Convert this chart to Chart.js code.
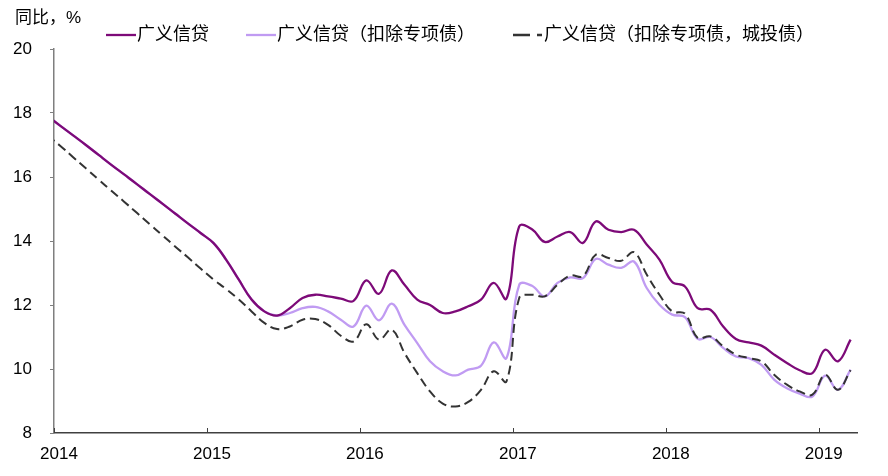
<!DOCTYPE html>
<html>
<head>
<meta charset="utf-8">
<script src="https://cdn.jsdelivr.net/npm/chart.js@4.4.1/dist/chart.umd.min.js"></script>
<style>
  html, body { margin: 0; padding: 0; background: #fff; }
  #wrap { width: 888px; height: 476px; }
</style>
</head>
<body>
<div id="wrap"><canvas id="creditChart" width="888" height="476"></canvas></div>
<script>
// monthly, first value = Dec 2013, last = Mar 2019
const yearLabels = ['2014', '2015', '2016', '2017', '2018', '2019'];
const seriesNames = ['广义信贷', '广义信贷（扣除专项债）', '广义信贷（扣除专项债，城投债）'];

const credit = [17.9,
  17.6, 17.3, 17.0, 16.69, 16.38, 16.08, 15.78, 15.47, 15.17, 14.86, 14.55, 14.25,
  13.94, 13.42, 12.79, 12.17, 11.8, 11.67, 11.9, 12.22, 12.32, 12.27, 12.2, 12.13,
  12.77, 12.35, 13.08, 12.63, 12.17, 12.0, 11.75, 11.8, 11.96, 12.17, 12.69, 12.2,
  14.46, 14.37, 13.97, 14.14, 14.28, 13.94, 14.61, 14.35, 14.28, 14.35, 13.89, 13.42,
  12.72, 12.58, 11.9, 11.85, 11.33, 10.94, 10.83, 10.73, 10.45, 10.19, 9.96, 9.87,
  10.6, 10.24, 10.92];

const creditExSpecial = [17.9,
  17.6, 17.3, 17.0, 16.69, 16.38, 16.08, 15.78, 15.47, 15.17, 14.86, 14.55, 14.25,
  13.94, 13.42, 12.79, 12.17, 11.8, 11.67, 11.75, 11.9, 11.94, 11.8, 11.54, 11.33,
  11.98, 11.52, 12.04, 11.38, 10.81, 10.24, 9.93, 9.8, 9.98, 10.1, 10.83, 10.34,
  12.63, 12.6, 12.27, 12.69, 12.86, 12.84, 13.44, 13.26, 13.16, 13.36, 12.53, 12.01,
  11.7, 11.62, 10.94, 11.0, 10.66, 10.39, 10.34, 10.13, 9.67, 9.4, 9.23, 9.14,
  9.79, 9.35, 9.98];

const creditExSpecialLgfv = [17.3,
  16.97, 16.62, 16.27, 15.92, 15.57, 15.23, 14.88, 14.53, 14.18, 13.83, 13.49, 13.14,
  12.8, 12.5, 12.17, 11.8, 11.44, 11.25, 11.33, 11.54, 11.56, 11.38, 11.04, 10.86,
  11.4, 10.92, 11.23, 10.5, 9.87, 9.3, 8.92, 8.83, 8.97, 9.35, 9.93, 9.61,
  12.22, 12.32, 12.27, 12.63, 12.92, 12.9, 13.57, 13.47, 13.38, 13.65, 12.95, 12.32,
  11.8, 11.73, 10.97, 11.02, 10.71, 10.45, 10.34, 10.24, 9.82, 9.51, 9.3, 9.2,
  9.82, 9.35, 9.96];

const PURPLE = '#7d0a78';
const LILAC = '#c09bf2';
const DARK = '#333333';
const FONT = '"Liberation Sans", "Noto Sans CJK SC", sans-serif';

// each month sits in the middle of its slot, Jan 2014 -> 0.5
const toPoints = arr => arr.map((v, i) => ({ x: i - 0.5, y: v }));

const headerPlugin = {
  id: 'header',
  afterDraw(chart) {
    const ctx = chart.ctx;
    ctx.save();
    ctx.fillStyle = '#000';
    ctx.textBaseline = 'middle';
    ctx.font = '17px ' + FONT;
    ctx.fillText('同比，%', 15, 18);

    ctx.font = '18px ' + FONT;
    const items = [
      { x0: 106, x1: 136, tx: 137, color: PURPLE, dash: [] },
      { x0: 246, x1: 276, tx: 277, color: LILAC, dash: [] },
      { x0: 513, x1: 542, tx: 544, color: DARK, dash: [17, 7, 5, 100] }
    ];
    items.forEach((it, k) => {
      ctx.beginPath();
      ctx.strokeStyle = it.color;
      ctx.lineWidth = 2.3;
      ctx.setLineDash(it.dash);
      ctx.moveTo(it.x0, 35);
      ctx.lineTo(it.x1, 35);
      ctx.stroke();
      ctx.setLineDash([]);
      ctx.fillText(seriesNames[k], it.tx, 35);
    });

    // small inward tick marks on the x axis
    const xs = chart.scales.x;
    const bottom = chart.chartArea.bottom;
    ctx.strokeStyle = '#404040';
    ctx.lineWidth = 1;
    xs.ticks.forEach(t => {
      const px = Math.round(xs.getPixelForValue(t.value)) + 0.5;
      ctx.beginPath();
      ctx.moveTo(px, bottom);
      ctx.lineTo(px, bottom - 5);
      ctx.stroke();
    });
    ctx.restore();
  }
};

new Chart(document.getElementById('creditChart'), {
  type: 'line',
  data: {
    datasets: [
      { label: seriesNames[0], data: toPoints(credit), borderColor: PURPLE, borderWidth: 2.3, order: 1 },
      { label: seriesNames[1], data: toPoints(creditExSpecial), borderColor: LILAC, borderWidth: 2.3, order: 2 },
      { label: seriesNames[2], data: toPoints(creditExSpecialLgfv), borderColor: DARK, borderWidth: 2, borderDash: [9, 5], order: 0 }
    ]
  },
  options: {
    responsive: false,
    animation: false,
    devicePixelRatio: 1,
    layout: { padding: { top: 49, right: 31, bottom: 0, left: 0 } },
    elements: {
      point: { radius: 0 },
      line: { tension: 0.4, fill: false }
    },
    plugins: { legend: { display: false }, tooltip: { enabled: false } },
    scales: {
      x: {
        type: 'linear',
        min: 0,
        max: 63,
        afterFit(s) { s.height = 43; },
        afterBuildTicks(s) { s.ticks = yearLabels.map((_, k) => ({ value: k * 12 })); },
        border: { color: '#404040', width: 1.5 },
        grid: { drawOnChartArea: false, drawTicks: false },
        ticks: {
          autoSkip: false,
          maxRotation: 0,
          padding: 11,
          labelOffset: 5,
          color: '#000',
          font: { family: FONT, size: 17 },
          callback: v => yearLabels[v / 12]
        }
      },
      y: {
        min: 8,
        max: 20,
        afterFit(s) { s.width = 54; },
        border: { color: '#7f7f7f', width: 1.5 },
        grid: { drawOnChartArea: false, drawTicks: true, tickLength: 4, color: '#7f7f7f' },
        ticks: {
          stepSize: 2,
          padding: 18,
          color: '#000',
          font: { family: FONT, size: 17 }
        }
      }
    }
  },
  plugins: [headerPlugin]
});
</script>
</body>
</html>
